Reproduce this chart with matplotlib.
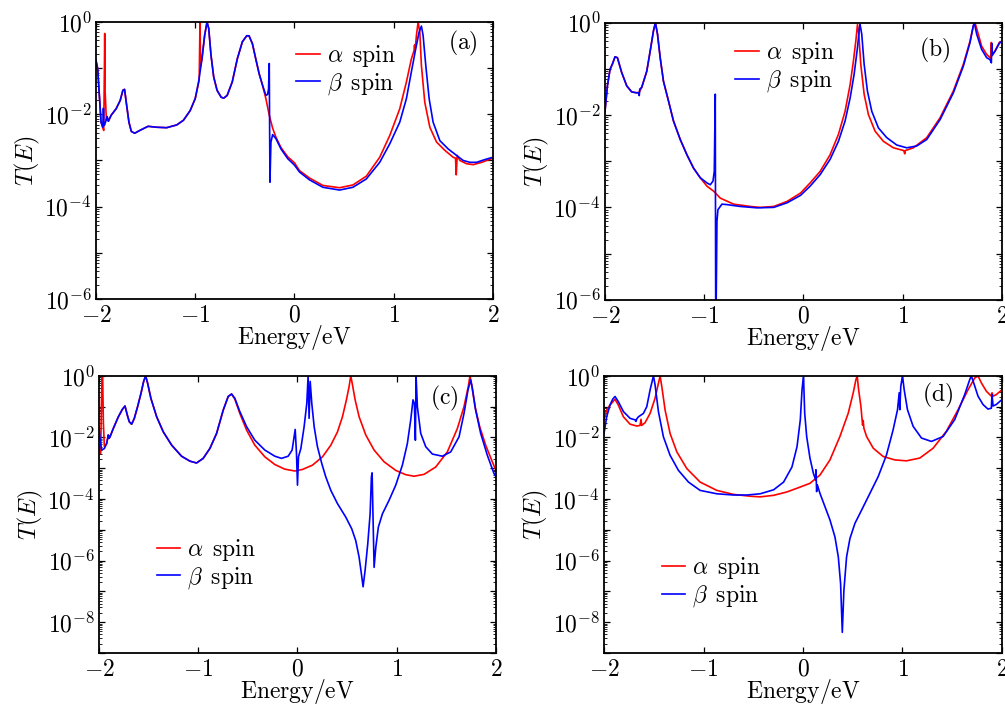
# spin-resolved transmission T(E) for four junctions, panels (a)-(d)
import numpy as np
import matplotlib
matplotlib.use('Agg')
import matplotlib.pyplot as plt
from matplotlib.ticker import FixedLocator, FuncFormatter, LogLocator, NullFormatter

plt.rcParams['mathtext.fontset'] = 'cm'
plt.rcParams['font.family'] = ['DejaVu Serif']

# (energy in eV, log10 T)
a_alpha = [(-2.000,-0.83),(-1.983,-1.01),(-1.966,-1.59),(-1.949,-2.17),(-1.932,-2.28),(-1.922,-2.35),
           (-1.915,-1.00),(-1.912,-0.25),(-1.908,-1.50),(-1.895,-2.13),(-1.888,-2.05),(-1.875,-2.15),
           (-1.847,-2.02),(-1.797,-1.88),(-1.756,-1.70),(-1.729,-1.48),(-1.712,-1.46),(-1.695,-1.74),
           (-1.668,-2.17),(-1.644,-2.37),(-1.610,-2.41),(-1.559,-2.35),(-1.475,-2.26),(-1.390,-2.28),
           (-1.288,-2.29),(-1.186,-2.23),(-1.119,-2.13),(-1.051,-1.92),(-1.000,-1.66),(-0.960,-1.25),
           (-0.952,0.00),(-0.946,-0.95),(-0.932,-0.80),(-0.905,-0.29),(-0.881,0.00),(-0.864,-0.14),
           (-0.841,-0.72),(-0.814,-1.19),(-0.780,-1.48),(-0.739,-1.63),(-0.712,-1.65),(-0.678,-1.59),
           (-0.627,-1.30),(-0.576,-0.80),(-0.525,-0.43),(-0.481,-0.30),(-0.458,-0.30),(-0.424,-0.47),
           (-0.390,-0.80),(-0.356,-1.12),(-0.322,-1.37),(-0.288,-1.66),(-0.254,-2.02),(-0.220,-2.30),
           (-0.186,-2.50),(-0.136,-2.72),(-0.068,-2.92),(0.000,-3.05),(0.051,-3.22),(0.152,-3.38),
           (0.286,-3.54),(0.455,-3.59),(0.589,-3.53),(0.724,-3.34),(0.859,-2.93),(0.960,-2.46),
           (1.061,-1.88),(1.128,-1.30),(1.178,-0.80),(1.205,-0.62),(1.210,-0.50),(1.214,-0.64),
           (1.229,-0.29),(1.246,0.00),(1.263,-0.22),(1.279,-0.94),(1.313,-1.74),(1.364,-2.28),
           (1.431,-2.60),(1.515,-2.78),(1.599,-2.93),(1.623,-2.95),(1.630,-3.31),(1.640,-2.89),
           (1.667,-3.00),(1.734,-3.07),(1.801,-3.09),(1.886,-3.04),(2.000,-2.95)]
a_beta = [(-2.000,-0.83),(-1.983,-1.01),(-1.966,-1.59),(-1.949,-2.17),(-1.932,-2.28),(-1.927,-2.10),
          (-1.925,-1.87),(-1.921,-2.24),(-1.915,-2.24),(-1.898,-2.13),(-1.888,-2.05),(-1.875,-2.15),
          (-1.847,-2.02),(-1.797,-1.88),(-1.756,-1.70),(-1.729,-1.48),(-1.712,-1.46),(-1.695,-1.74),
          (-1.668,-2.17),(-1.644,-2.37),(-1.610,-2.41),(-1.559,-2.35),(-1.475,-2.26),(-1.390,-2.28),
          (-1.288,-2.29),(-1.186,-2.23),(-1.119,-2.13),(-1.051,-1.92),(-1.000,-1.66),(-0.966,-1.30),
          (-0.932,-0.80),(-0.905,-0.29),(-0.881,0.00),(-0.864,-0.14),(-0.841,-0.72),(-0.814,-1.19),
          (-0.780,-1.48),(-0.739,-1.63),(-0.712,-1.65),(-0.678,-1.59),(-0.627,-1.30),(-0.576,-0.80),
          (-0.525,-0.43),(-0.481,-0.30),(-0.458,-0.30),(-0.424,-0.47),(-0.390,-0.80),(-0.356,-1.12),
          (-0.322,-1.37),(-0.288,-1.59),(-0.271,-1.57),(-0.261,-1.45),(-0.254,-0.90),(-0.251,-2.02),
          (-0.247,-3.47),(-0.237,-2.60),(-0.220,-2.44),(-0.186,-2.53),(-0.136,-2.75),(-0.068,-2.96),
          (0.000,-3.10),(0.051,-3.25),(0.152,-3.42),(0.286,-3.58),(0.455,-3.64),(0.589,-3.58),
          (0.724,-3.40),(0.859,-3.04),(0.960,-2.64),(1.061,-2.17),(1.128,-1.66),(1.178,-1.08),
          (1.222,-0.58),(1.256,-0.22),(1.279,-0.09),(1.296,-0.29),(1.323,-0.94),(1.357,-1.66),
          (1.397,-2.17),(1.465,-2.57),(1.549,-2.75),(1.633,-2.89),(1.700,-3.00),(1.768,-3.04),
          (1.835,-3.04),(1.919,-2.98),(2.000,-2.93)]

b_alpha = [(-2.000,-1.92),(-1.976,-1.37),(-1.949,-1.01),(-1.926,-0.90),(-1.899,-0.74),(-1.875,-0.76),
           (-1.832,-1.08),(-1.781,-1.37),(-1.731,-1.50),(-1.680,-1.52),(-1.653,-1.50),(-1.630,-1.40),
           (-1.579,-1.05),(-1.539,-0.54),(-1.512,-0.18),(-1.492,0.00),(-1.471,-0.25),(-1.444,-0.76),
           (-1.411,-1.27),(-1.360,-1.70),(-1.310,-2.13),(-1.242,-2.53),(-1.175,-2.86),(-1.108,-3.15),
           (-1.040,-3.36),(-0.973,-3.54),(-0.905,-3.65),(-0.838,-3.80),(-0.704,-3.93),(-0.535,-3.98),
           (-0.434,-4.00),(-0.300,-3.98),(-0.165,-3.87),(-0.030,-3.69),(0.067,-3.47),(0.168,-3.22),
           (0.268,-2.86),(0.352,-2.42),(0.419,-1.92),(0.470,-1.34),(0.503,-0.83),(0.527,-0.40),
           (0.544,-0.04),(0.557,-0.25),(0.577,-0.90),(0.611,-1.55),(0.654,-1.99),(0.721,-2.35),
           (0.805,-2.57),(0.906,-2.71),(1.010,-2.77),(1.020,-2.84),(1.025,-2.77),(1.107,-2.71),
           (1.242,-2.49),(1.376,-2.06),(1.510,-1.48),(1.611,-0.90),(1.678,-0.40),(1.711,-0.07),
           (1.728,0.00),(1.752,-0.18),(1.795,-0.51),(1.846,-0.69),(1.886,-0.77),(1.893,-0.43),
           (1.898,-0.72),(1.930,-0.61),(1.973,-0.43),(2.000,-0.40)]
b_beta = [(-2.000,-1.92),(-1.976,-1.37),(-1.949,-1.01),(-1.926,-0.90),(-1.899,-0.74),(-1.875,-0.76),
          (-1.832,-1.08),(-1.781,-1.37),(-1.731,-1.50),(-1.680,-1.52),(-1.660,-1.52),(-1.655,-1.58),
          (-1.650,-1.44),(-1.630,-1.40),(-1.579,-1.05),(-1.539,-0.54),(-1.512,-0.18),(-1.492,0.00),
          (-1.471,-0.25),(-1.444,-0.76),(-1.411,-1.27),(-1.360,-1.70),(-1.310,-2.13),(-1.242,-2.53),
          (-1.175,-2.86),(-1.108,-3.15),(-1.040,-3.36),(-0.973,-3.47),(-0.939,-3.51),(-0.912,-3.43),
          (-0.899,-3.22),(-0.889,-1.55),(-0.884,-7.00),(-0.872,-4.30),(-0.862,-4.05),(-0.822,-3.93),
          (-0.771,-3.94),(-0.636,-3.98),(-0.468,-4.01),(-0.300,-4.00),(-0.165,-3.90),(-0.030,-3.74),
          (0.067,-3.54),(0.168,-3.29),(0.268,-2.96),(0.352,-2.57),(0.419,-2.13),(0.470,-1.63),
          (0.510,-1.12),(0.544,-0.54),(0.564,-0.11),(0.570,-0.04),(0.587,-0.25),(0.611,-0.90),
          (0.644,-1.48),(0.688,-1.92),(0.755,-2.28),(0.839,-2.49),(0.940,-2.65),(1.040,-2.71),
          (1.141,-2.67),(1.242,-2.53),(1.376,-2.10),(1.510,-1.52),(1.611,-0.94),(1.678,-0.43),
          (1.711,-0.07),(1.721,0.00),(1.745,-0.25),(1.795,-0.58),(1.846,-0.76),(1.879,-0.80),
          (1.893,-0.87),(1.897,-0.45),(1.903,-0.70),(1.930,-0.62),(1.973,-0.45),(2.000,-0.40)]

c_alpha = [(-2.000,-2.30),(-1.983,-2.52),(-1.976,-1.00),(-1.970,0.00),(-1.963,0.00),(-1.956,-1.50),
           (-1.946,-2.30),(-1.923,-2.20),(-1.906,-1.92),(-1.899,-2.03),(-1.889,-1.98),(-1.856,-1.71),
           (-1.805,-1.33),(-1.765,-1.09),(-1.738,-0.98),(-1.715,-1.27),(-1.695,-1.49),(-1.671,-1.57),
           (-1.644,-1.38),(-1.611,-1.00),(-1.577,-0.57),(-1.550,-0.18),(-1.530,0.00),(-1.510,-0.24),
           (-1.477,-0.73),(-1.419,-1.33),(-1.352,-1.82),(-1.268,-2.25),(-1.168,-2.61),(-1.084,-2.77),
           (-1.017,-2.83),(-0.950,-2.68),(-0.883,-2.36),(-0.815,-1.87),(-0.748,-1.11),(-0.698,-0.67),
           (-0.664,-0.59),(-0.631,-0.76),(-0.581,-1.22),(-0.513,-1.76),(-0.430,-2.25),(-0.329,-2.63),
           (-0.228,-2.88),(-0.128,-3.03),(-0.027,-3.09),(0.050,-3.04),(0.151,-2.90),(0.252,-2.63),
           (0.336,-2.25),(0.403,-1.82),(0.453,-1.33),(0.493,-0.78),(0.520,-0.35),(0.537,0.00),
           (0.554,-0.29),(0.581,-0.78),(0.621,-1.33),(0.688,-1.92),(0.772,-2.41),(0.872,-2.79),
           (0.990,-3.07),(1.091,-3.21),(1.174,-3.26),(1.275,-3.20),(1.393,-2.96),(1.510,-2.47),
           (1.611,-1.71),(1.678,-1.00),(1.721,-0.35),(1.738,0.00),(1.755,-0.29),(1.789,-1.00),
           (1.836,-1.65),(1.896,-2.25),(1.963,-2.79),(2.000,-3.07)]
c_beta = [(-2.000,-1.65),(-1.987,-2.14),(-1.973,-2.41),(-1.946,-2.36),(-1.923,-2.20),(-1.906,-1.92),
          (-1.899,-2.03),(-1.889,-1.98),(-1.856,-1.71),(-1.805,-1.33),(-1.765,-1.09),(-1.738,-0.98),
          (-1.715,-1.27),(-1.695,-1.49),(-1.671,-1.57),(-1.644,-1.38),(-1.611,-1.00),(-1.577,-0.57),
          (-1.550,-0.18),(-1.530,0.00),(-1.510,-0.24),(-1.477,-0.73),(-1.419,-1.33),(-1.352,-1.82),
          (-1.268,-2.25),(-1.168,-2.61),(-1.084,-2.77),(-1.017,-2.83),(-0.950,-2.68),(-0.883,-2.36),
          (-0.815,-1.87),(-0.748,-1.11),(-0.698,-0.67),(-0.664,-0.59),(-0.631,-0.73),(-0.581,-1.16),
          (-0.513,-1.65),(-0.430,-2.09),(-0.329,-2.41),(-0.228,-2.61),(-0.161,-2.68),(-0.094,-2.61),
          (-0.054,-2.41),(-0.023,-1.74),(-0.010,-2.52),(0.000,-3.55),(0.010,-2.63),(0.034,-2.36),
          (0.067,-1.65),(0.094,-0.89),(0.107,0.00),(0.117,-1.38),(0.128,-0.18),(0.144,-0.89),
          (0.168,-1.65),(0.201,-2.30),(0.245,-2.85),(0.285,-3.28),(0.336,-3.72),(0.403,-4.15),
          (0.487,-4.59),(0.547,-4.97),(0.587,-5.35),(0.621,-5.89),(0.644,-6.43),(0.661,-6.85),
          (0.681,-6.33),(0.708,-5.46),(0.732,-4.48),(0.745,-3.28),(0.752,-3.15),(0.762,-4.70),
          (0.772,-6.22),(0.789,-5.57),(0.815,-4.91),(0.856,-4.48),(0.923,-4.04),(0.990,-3.55),
          (1.057,-2.90),(1.107,-2.20),(1.141,-1.43),(1.164,-0.78),(1.178,-0.90),(1.188,-2.09),
          (1.195,0.00),(1.208,-1.00),(1.242,-1.87),(1.292,-2.30),(1.359,-2.54),(1.460,-2.61),
          (1.544,-2.47),(1.628,-1.98),(1.678,-1.22),(1.718,-0.46),(1.745,-0.13),(1.762,-0.40),
          (1.795,-1.11),(1.846,-1.87),(1.913,-2.58),(1.980,-3.17),(2.000,-3.28)]

d_alpha = [(-2.000,-1.43),(-1.973,-1.11),(-1.940,-0.95),(-1.889,-0.76),(-1.856,-0.95),(-1.805,-1.33),
           (-1.738,-1.57),(-1.671,-1.63),(-1.638,-1.61),(-1.628,-1.41),(-1.621,-1.61),(-1.587,-1.52),
           (-1.537,-1.22),(-1.487,-0.73),(-1.453,-0.24),(-1.436,0.00),(-1.419,-0.35),(-1.386,-1.11),
           (-1.336,-1.87),(-1.268,-2.47),(-1.168,-3.01),(-1.034,-3.45),(-0.866,-3.72),(-0.698,-3.85),
           (-0.530,-3.91),(-0.430,-3.93),(-0.295,-3.88),(-0.161,-3.77),(-0.027,-3.61),(0.070,-3.49),
           (0.171,-3.22),(0.271,-2.73),(0.371,-1.97),(0.455,-1.21),(0.505,-0.55),(0.532,-0.12),
           (0.545,-0.01),(0.559,-0.45),(0.582,-0.99),(0.599,-1.60),(0.605,-1.45),(0.612,-1.70),
           (0.639,-1.97),(0.706,-2.35),(0.806,-2.62),(0.923,-2.73),(1.040,-2.76),(1.174,-2.67),
           (1.308,-2.35),(1.441,-1.80),(1.559,-1.10),(1.659,-0.45),(1.726,-0.07),(1.759,0.00),
           (1.793,-0.23),(1.843,-0.50),(1.893,-0.66),(1.900,-0.55),(1.910,-0.66),(1.943,-0.61),
           (2.000,-0.45)]
d_beta = [(-2.000,-1.87),(-1.973,-1.33),(-1.940,-0.95),(-1.913,-0.76),(-1.889,-0.67),(-1.856,-0.84),
          (-1.805,-1.16),(-1.738,-1.38),(-1.688,-1.43),(-1.678,-1.48),(-1.671,-1.40),(-1.654,-1.33),
          (-1.604,-1.22),(-1.570,-1.00),(-1.537,-0.46),(-1.503,0.00),(-1.487,-0.29),(-1.453,-1.16),
          (-1.403,-1.98),(-1.336,-2.58),(-1.252,-3.07),(-1.151,-3.45),(-1.034,-3.72),(-0.866,-3.83),
          (-0.698,-3.87),(-0.564,-3.87),(-0.430,-3.83),(-0.295,-3.70),(-0.195,-3.45),(-0.111,-2.96),
          (-0.060,-2.30),(-0.027,-1.43),(-0.010,-0.46),(0.005,0.00),(0.017,-1.21),(0.037,-1.97),
          (0.070,-2.67),(0.104,-3.16),(0.127,-3.38),(0.130,-3.05),(0.137,-3.76),(0.144,-3.54),
          (0.171,-3.82),(0.221,-4.25),(0.271,-4.68),(0.321,-5.23),(0.355,-5.88),(0.378,-6.75),
          (0.395,-8.33),(0.411,-6.97),(0.438,-5.88),(0.472,-5.28),(0.522,-4.79),(0.589,-4.36),
          (0.672,-3.82),(0.756,-3.27),(0.839,-2.57),(0.906,-1.75),(0.950,-1.10),(0.967,-0.55),
          (0.973,-1.10),(0.983,-0.34),(1.000,0.00),(1.017,-0.45),(1.050,-1.10),(1.107,-1.64),
          (1.191,-2.02),(1.291,-2.13),(1.408,-1.97),(1.525,-1.42),(1.625,-0.61),(1.676,-0.12),
          (1.692,0.00),(1.716,-0.23),(1.759,-0.66),(1.809,-0.93),(1.859,-1.08),(1.893,-1.05),
          (1.900,-0.61),(1.910,-0.98),(1.943,-0.93),(2.000,-0.77)]

panel_tags = ['(a)', '(b)', '(c)', '(d)']
y_bottom = [-6, -6, -9, -9]
x_ticks = [-2, -1, 0, 1, 2]

# figure-fraction boxes [left, bottom, width, height]
boxes = [[0.0955, 0.577, 0.395, 0.392],
         [0.602, 0.576, 0.395, 0.392],
         [0.0985, 0.0764, 0.395, 0.392],
         [0.601, 0.0764, 0.396, 0.392]]
leg_pos = [(0.505, 0.827), (0.328, 0.839), (0.145, 0.321), (0.145, 0.255)]
tag_pos = [(0.924, 0.924), (0.831, 0.900), (0.869, 0.920), (0.839, 0.931)]

curves = [(a_alpha, a_beta), (b_alpha, b_beta), (c_alpha, c_beta), (d_alpha, d_beta)]

fig = plt.figure(figsize=(10.05, 7.07), dpi=100)

for i in range(4):
    ax = fig.add_axes(boxes[i])
    alpha, beta = curves[i]
    ea, ta = zip(*alpha)
    eb, tb = zip(*beta)
    ax.semilogy(ea, 10.0 ** np.array(ta), color='#ff0000', lw=1.2,
                label=r'$\alpha\enspace\mathrm{spin}$')
    ax.semilogy(eb, 10.0 ** np.array(tb), color='#0000ff', lw=1.2,
                label=r'$\beta\enspace\mathrm{spin}$')

    ax.set_xlim(-2, 2)
    ax.set_ylim(10.0 ** y_bottom[i], 1.0)

    ax.xaxis.set_major_locator(FixedLocator(x_ticks))
    ax.xaxis.set_major_formatter(FuncFormatter(lambda v, p: r'$%d$' % round(v)))
    decades = [10.0 ** k for k in range(y_bottom[i], 1)]
    ax.yaxis.set_major_locator(FixedLocator(decades))
    ax.yaxis.set_major_formatter(FuncFormatter(
        lambda v, p: r'$10^{%d}$' % round(np.log10(v)) if round(np.log10(v)) % 2 == 0 else ''))
    ax.yaxis.set_minor_locator(LogLocator(base=10, subs=np.arange(2, 10), numticks=30))
    ax.yaxis.set_minor_formatter(NullFormatter())

    ax.tick_params(which='both', direction='in', top=True, right=True, labelsize=17)
    ax.tick_params(axis='x', pad=3.5)
    ax.tick_params(axis='y', pad=3)
    ax.tick_params(which='major', length=4, width=0.9)
    ax.tick_params(which='minor', length=2, width=0.6)
    for s in ax.spines.values():
        s.set_linewidth(1.3)

    ax.set_xlabel(r'$\mathrm{Energy/eV}$', fontsize=17, labelpad=-2.5)
    ax.set_ylabel(r'$T(E)$', fontsize=17.5, labelpad=2)

    ax.legend(loc='center left', bbox_to_anchor=leg_pos[i], frameon=False, fontsize=17,
              handlelength=1.0, handletextpad=0.3, labelspacing=0.1, borderpad=0, borderaxespad=0)
    ax.text(tag_pos[i][0], tag_pos[i][1], r'$\mathrm{%s}$' % panel_tags[i], transform=ax.transAxes,
            ha='center', va='center', fontsize=17)

fig.savefig('out.png', dpi=100)
